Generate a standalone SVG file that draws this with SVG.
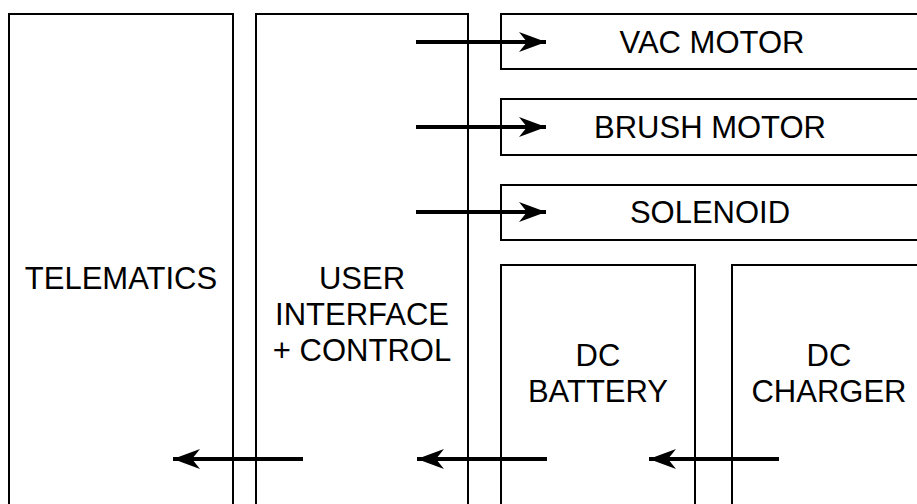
<svg xmlns="http://www.w3.org/2000/svg" width="917" height="504" viewBox="0 0 917 504">
<style>
.box{fill:#fff;stroke:#000;stroke-width:2}
.lbl{font-family:"Liberation Sans",Arial,sans-serif;font-size:31px;fill:#000;text-anchor:middle}
.arr{stroke:#000;stroke-width:4;fill:none}
</style>
<defs>
<marker id="ah" markerUnits="userSpaceOnUse" markerWidth="30" markerHeight="24" refX="27" refY="11" orient="auto" viewBox="0 0 30 24">
<path d="M27,11 L0,1 L8,11 L0,21 Z" fill="#000"/>
</marker>
</defs>
<rect width="917" height="504" fill="#fff"/>
<g id="telematics">
<rect class="box" x="9" y="14" width="224" height="500"/>
<text class="lbl" x="121" y="289">TELEMATICS</text>
</g>
<g id="ui">
<rect class="box" x="256" y="14" width="212" height="500"/>
<text class="lbl" x="362" y="289">USER</text>
<text class="lbl" x="362" y="325">INTERFACE</text>
<text class="lbl" x="362" y="361">+ CONTROL</text>
</g>
<g id="vac">
<rect class="box" x="501" y="14" width="424" height="55"/>
<text class="lbl" x="712" y="53">VAC MOTOR</text>
</g>
<g id="brush">
<rect class="box" x="501" y="99" width="424" height="56"/>
<text class="lbl" x="710" y="138">BRUSH MOTOR</text>
</g>
<g id="solenoid">
<rect class="box" x="501" y="185" width="424" height="55"/>
<text class="lbl" x="710" y="223">SOLENOID</text>
</g>
<g id="battery">
<rect class="box" x="501" y="265" width="194" height="250"/>
<text class="lbl" x="598" y="366">DC</text>
<text class="lbl" x="598" y="402">BATTERY</text>
</g>
<g id="charger">
<rect class="box" x="732" y="265" width="194" height="250"/>
<text class="lbl" x="829" y="366">DC</text>
<text class="lbl" x="829" y="402">CHARGER</text>
</g>
<g id="connectors">
<line class="arr" x1="416" y1="42" x2="546" y2="42" marker-end="url(#ah)"/>
<line class="arr" x1="416" y1="127" x2="546" y2="127" marker-end="url(#ah)"/>
<line class="arr" x1="416" y1="212" x2="546" y2="212" marker-end="url(#ah)"/>
<line class="arr" x1="303" y1="459" x2="173" y2="459" marker-end="url(#ah)"/>
<line class="arr" x1="547" y1="459" x2="417" y2="459" marker-end="url(#ah)"/>
<line class="arr" x1="779" y1="459" x2="649" y2="459" marker-end="url(#ah)"/>
</g>
</svg>
